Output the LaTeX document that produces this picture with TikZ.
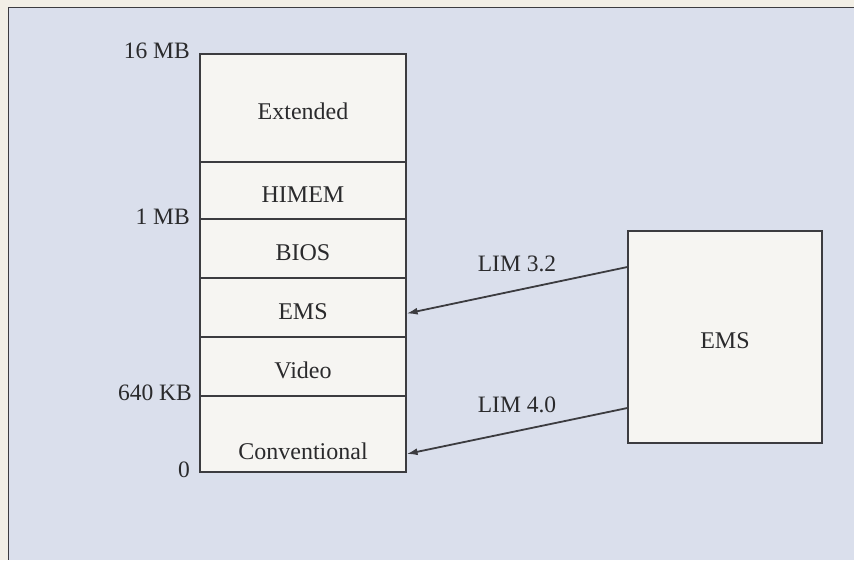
\documentclass[tikz,border=0pt]{standalone}
\usepackage{fontspec}
\setmainfont{Liberation Serif}
\usepackage{tikz}
\usetikzlibrary{arrows.meta}
\definecolor{MemPaper}{HTML}{F2EFE6}
\definecolor{MemPanel}{HTML}{DADFEC}
\definecolor{MemFill}{HTML}{F6F5F2}
\definecolor{MemLine}{HTML}{3C3C40}
\definecolor{MemText}{HTML}{2A2A2C}

\begin{document}
\begin{tikzpicture}[x=1pt,y=-1pt,>={Latex[length=11pt,width=7pt]}]
  \tikzstyle{region}=[draw=MemLine,fill=MemFill,line width=1.2pt,
    minimum width=206pt,inner sep=0pt,text=MemText,
    text height=23.5pt,text depth=0pt,
    font=\fontsize{24}{26}\selectfont]
  \tikzstyle{level}=[anchor=east,inner sep=0pt,text=MemText,
    font=\fontsize{23.5}{26}\selectfont]
  \tikzstyle{lim}=[text=MemText,font=\fontsize{23.5}{26}\selectfont]
  \useasboundingbox (0,0) rectangle (854,560);
  \fill[MemPaper] (0,0) rectangle (854,560);
  \fill[MemPanel] (8,7) rectangle (854,560);
  \draw[MemLine,line width=1pt] (854,7) -- (8,7) -- (8,560);
  \node[region,minimum height=108pt] (ext) at (303,108) {Extended};
  \node[region,minimum height=57pt] (himem) at (303,190.5) {HIMEM};
  \node[region,minimum height=59pt] (bios) at (303,248.5) {BIOS};
  \node[region,minimum height=59pt] (emsmem) at (303,307.5) {EMS};
  \node[region,minimum height=59pt] (video) at (303,366.5) {Video};
  \node[region,minimum height=76pt,text height=51pt] (conv) at (303,434) {Conventional};
  \node[level] (mb16) at (190,51) {16 MB};
  \node[level] (mb1) at (190,217) {1 MB};
  \node[level] (kb640) at (192,393) {640 KB};
  \node[level] (zero) at (190,470) {0};
  \node[region,minimum width=194pt,minimum height=212pt] (emsbox) at (725,337) {EMS};
  \draw[->,line width=1.8pt,color=MemLine] ([yshift=70pt]emsbox.west)
    -- node[lim,above=14pt] {LIM 3.2} ([yshift=-6pt]emsmem.east);
  \draw[->,line width=1.8pt,color=MemLine] ([yshift=-71pt]emsbox.west)
    -- node[lim,above=14pt] {LIM 4.0} ([yshift=-20pt]conv.east);
\end{tikzpicture}
\end{document}
